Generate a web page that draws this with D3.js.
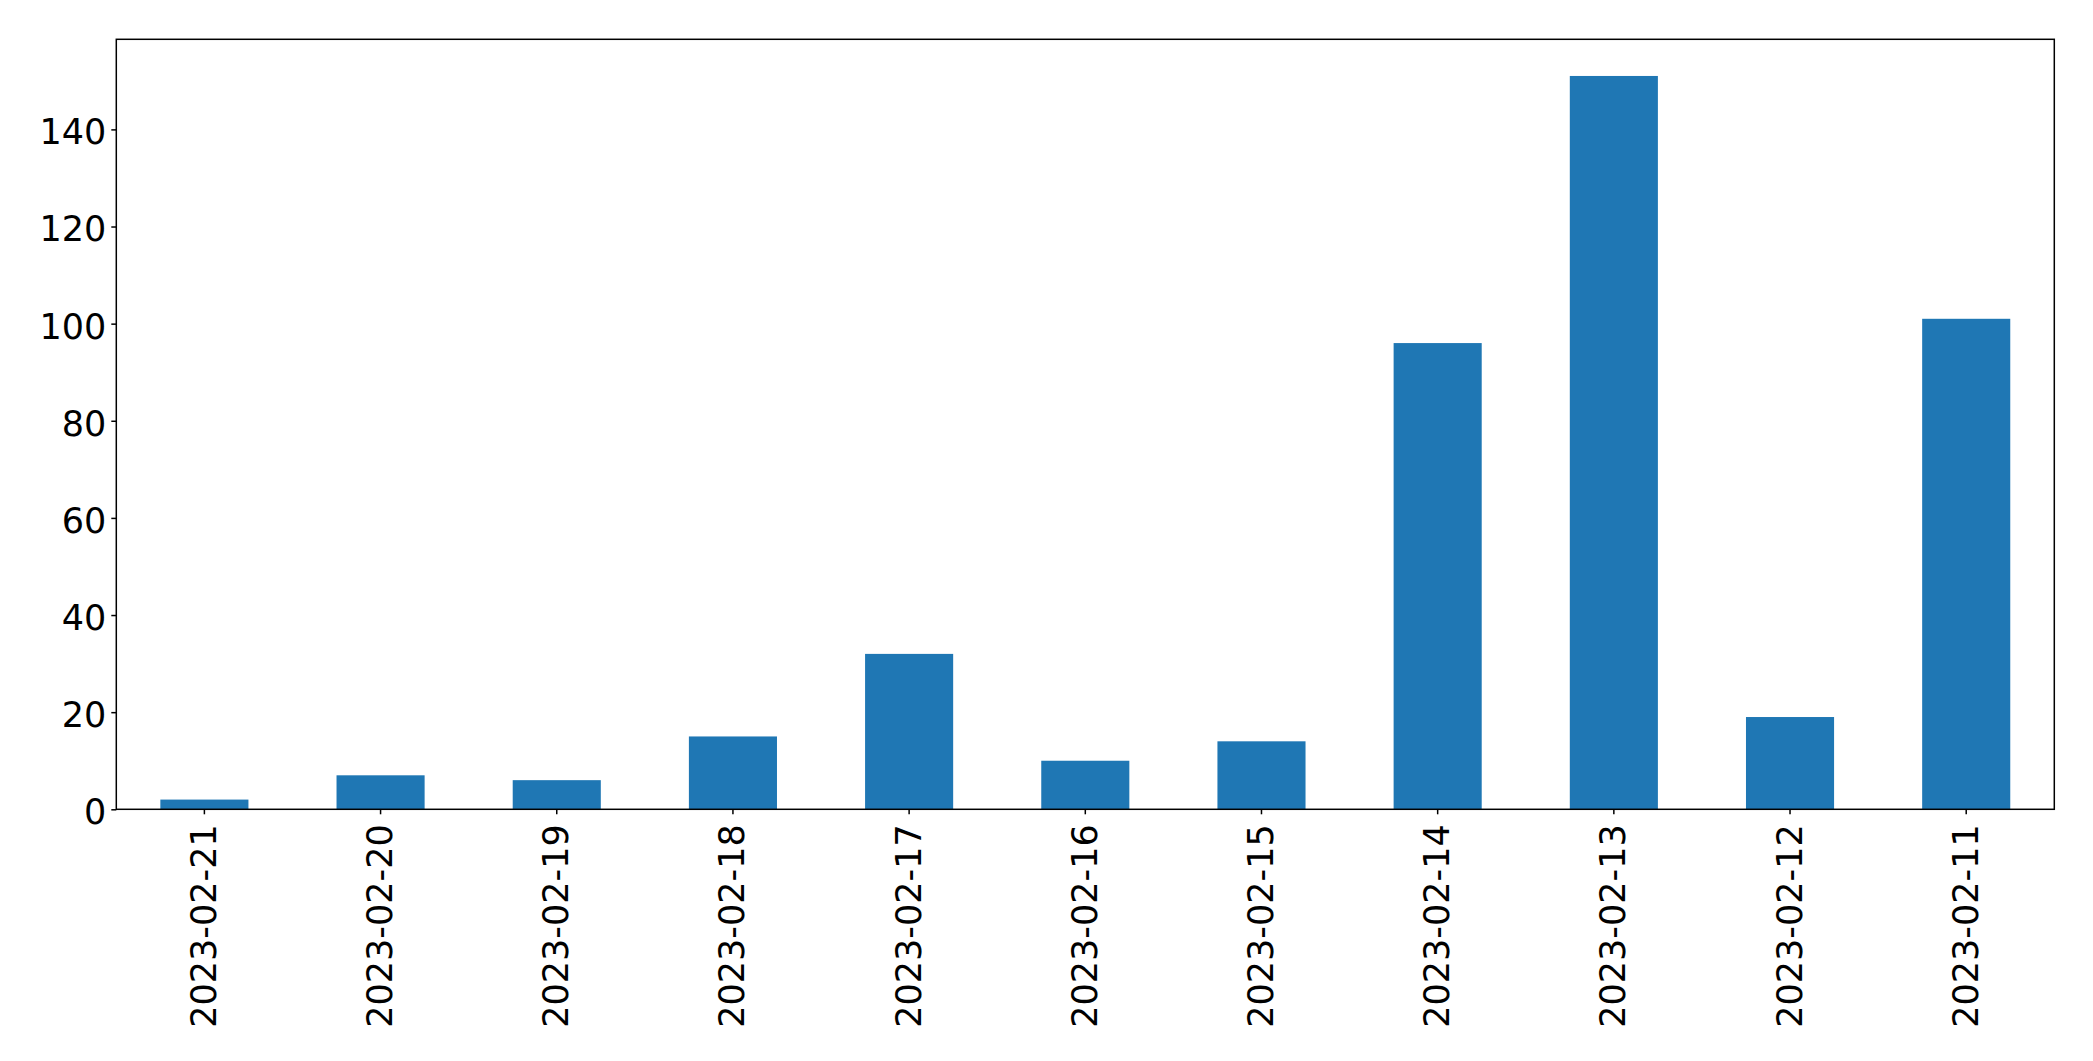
<!DOCTYPE html>
<html>
<head>
<meta charset="utf-8">
<script src="https://cdn.jsdelivr.net/npm/d3@7"></script>
<style>
  html, body { margin: 0; padding: 0; background: #fff; }
  svg { display: block; }
  .tick text { font-family: "DejaVu Sans", sans-serif; font-size: 35px; fill: #000; }
</style>
</head>
<body>
<script>
const categories = ["2023-02-21","2023-02-20","2023-02-19","2023-02-18","2023-02-17","2023-02-16","2023-02-15","2023-02-14","2023-02-13","2023-02-12","2023-02-11"];
const values = [2, 7, 6, 15, 32, 10, 14, 96, 151, 19, 101];
const yTicks = [0, 20, 40, 60, 80, 100, 120, 140];

const W = 2093, H = 1061;
const margin = { left: 116.3, right: W - 2054.3, top: 39.3, bottom: H - 809.3 };
const iw = W - margin.left - margin.right;
const ih = H - margin.top - margin.bottom;

const svg = d3.select("body").append("svg").attr("width", W).attr("height", H);
const g = svg.append("g").attr("transform", `translate(${margin.left},${margin.top})`);

const x = d3.scaleBand().domain(categories).range([0, iw]).paddingInner(0.5).paddingOuter(0.25);
const y = d3.scaleLinear().domain([0, d3.max(values) * 1.05]).range([ih, 0]);

g.selectAll("rect.bar").data(categories).join("rect")
  .attr("class", "bar")
  .attr("x", d => x(d))
  .attr("width", x.bandwidth())
  .attr("y", (d, i) => y(values[i]))
  .attr("height", (d, i) => y(0) - y(values[i]))
  .attr("fill", "#1f77b4");

const yAxis = g.append("g").call(d3.axisLeft(y).tickValues(yTicks).tickSize(5).tickPadding(5).tickFormat(d3.format("d")));
yAxis.select(".domain").remove();
yAxis.selectAll(".tick line").attr("stroke", "#000").attr("stroke-width", 1.5);
yAxis.selectAll(".tick text").attr("dy", "0.41em");

const xAxis = g.append("g").attr("transform", `translate(0,${ih})`)
  .call(d3.axisBottom(x).tickSize(5).tickPadding(0));
xAxis.select(".domain").remove();
xAxis.selectAll(".tick line").attr("stroke", "#000").attr("stroke-width", 1.5);
xAxis.selectAll(".tick text")
  .attr("transform", "rotate(-90)")
  .attr("x", -15)
  .attr("y", 0)
  .attr("dy", "0.33em")
  .attr("text-anchor", "end");

g.append("rect").attr("x", 0).attr("y", 0).attr("width", iw).attr("height", ih)
  .attr("fill", "none").attr("stroke", "#000").attr("stroke-width", 1.5);
</script>
</body>
</html>
